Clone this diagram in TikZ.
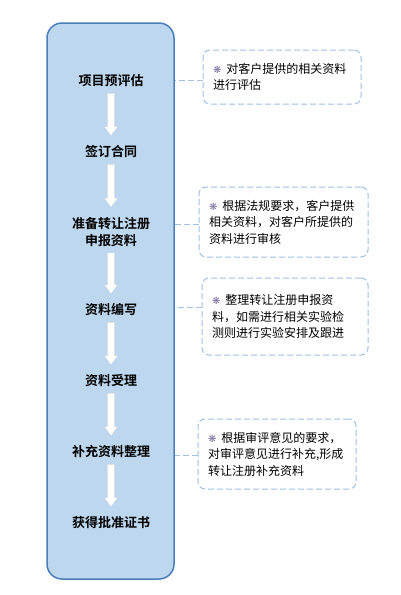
\documentclass[tikz,border=0pt]{standalone}
\usepackage{fontspec}
\setmainfont{Noto Sans CJK SC}[BoldFont={Noto Sans CJK SC Bold}]
\newfontfamily\symfont{DejaVu Sans}
\usetikzlibrary{arrows.meta,positioning}
\definecolor{boxfill}{HTML}{BDD7EE}
\definecolor{boxline}{HTML}{4A7EBB}
\definecolor{noteline}{HTML}{9DC3E6}
\definecolor{markcol}{HTML}{7A6E9E}
\newcommand{\bulletmark}{{\symfont\fontsize{10pt}{10pt}\selectfont\textcolor{markcol}{❋}}\hspace{5pt}}

\begin{document}
\begin{tikzpicture}[x=1pt,y=-1pt,
	mainbox/.style={draw=boxline,line width=1.5pt,fill=boxfill,rounded corners=15pt,minimum width=127pt,minimum height=556pt},
	stepnode/.style={font=\fontsize{13pt}{17pt}\selectfont\bfseries,align=center,inner sep=0pt},
	notebox/.style={draw=noteline,line width=1pt,dash pattern=on 6pt off 3pt,rounded corners=7pt,
		fill=white,align=left,inner xsep=10pt,inner ysep=0pt,font=\fontsize{12pt}{16.5pt}\selectfont},
	flowarrow/.style={white,line width=6pt,-{Triangle[width=11pt,length=8pt]},shorten <=6.5pt,shorten >=10.5pt,
		preaction={draw=black!12,line width=7.5pt,-{Triangle[width=13pt,length=9pt]},shorten <=6pt,shorten >=10pt}},
	linkline/.style={draw=noteline,line width=1pt,dash pattern=on 6pt off 3pt}]
	\useasboundingbox (0,0) rectangle (401,595);
	% % left column
	\node[mainbox] (main) at (110.5,301) {};
	\node[stepnode] (s1) at (111,81) {项目预评估};
	\node[stepnode] (s2) at (111,152) {签订合同};
	\node[stepnode] (s3) at (111,232) {准备转让注册\\申报资料};
	\node[stepnode] (s4) at (111,310) {资料编写};
	\node[stepnode] (s5) at (111,381) {资料受理};
	\node[stepnode] (s6) at (111,452) {补充资料整理};
	\node[stepnode] (s7) at (111,523) {获得批准证书};
	\foreach \a/\b in {s1/s2,s2/s3,s3/s4,s4/s5,s5/s6,s6/s7}
		\draw[flowarrow] (\a) -- (\b);
	% % notes on the right
	\node[notebox,text width=138pt,minimum height=54pt] (d1) at (282,77)
		{\bulletmark 对客户提供的相关资料\\进行评估};
	\node[notebox,text width=149pt,minimum height=70pt] (d2) at (283.5,222)
		{\bulletmark 根据法规要求，客户提供\\相关资料，对客户所提供的\\资料进行审核};
	\node[notebox,text width=146pt,minimum height=77pt] (d3) at (285,316.5)
		{\bulletmark 整理转让注册申报资\\料，如需进行相关实验检\\测则进行实验安排及跟进};
	\node[notebox,text width=138pt,minimum height=70pt] (d4) at (277,454)
		{\bulletmark 根据审评意见的要求，\\对审评意见进行补充,形成\\转让注册补充资料};
	\draw[linkline] ([yshift=-3pt]d1.west) -- ([yshift=-3pt]d1.west -| main.east);
	\draw[linkline] ([yshift=-2pt]d2.west) -- ([yshift=-2pt]d2.west -| main.east);
	\draw[linkline] ([yshift=9.5pt]d3.west) -- ([yshift=9.5pt]d3.west -| main.east);
	\draw[linkline] ([yshift=-1pt]d4.west) -- ([yshift=-1pt]d4.west -| main.east);
\end{tikzpicture}
\end{document}
